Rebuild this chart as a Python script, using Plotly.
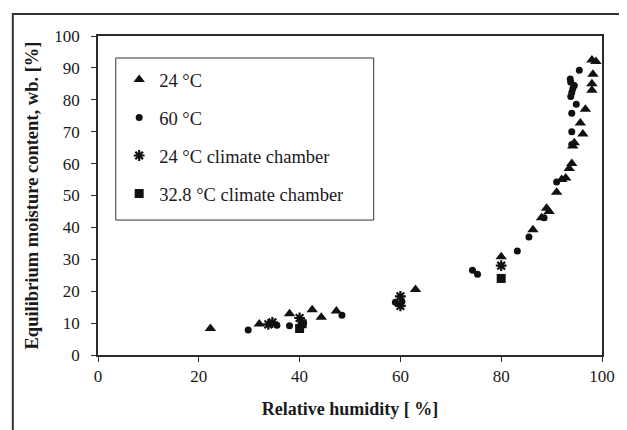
import plotly.graph_objects as go

# ---- data ----
rh_24 = [22.3, 32.0, 38.0, 42.5, 44.3, 47.3, 63.0, 80.0, 86.3, 88.0, 89.0, 89.5,
         91.0, 92.0, 92.8, 93.5, 94.0, 94.2, 94.5, 96.2, 95.7, 96.7, 98.0, 98.0,
         98.2, 98.0, 98.8]
emc_24 = [8.3, 9.7, 12.9, 14.2, 11.8, 13.8, 20.5, 30.8, 39.3, 43.0, 46.0, 45.0,
          51.0, 55.0, 55.5, 58.5, 60.0, 65.5, 66.5, 69.3, 72.7, 77.0, 83.0, 85.0,
          88.0, 92.5, 92.0]

rh_60 = [29.8, 35.5, 38.0, 40.8, 48.4, 59.0, 60.3, 74.3, 75.3, 83.2, 85.5, 88.5,
         91.0, 94.0, 94.0, 94.0, 94.9, 93.8, 94.0, 94.2, 94.5, 93.8, 93.7, 95.5]
emc_60 = [7.8, 9.3, 9.2, 10.0, 12.5, 16.5, 16.8, 26.6, 25.3, 32.6, 37.0, 43.0,
          54.2, 66.0, 70.0, 75.8, 78.6, 81.0, 82.3, 83.5, 84.5, 85.5, 86.5, 89.3]

rh_24cc = [33.8, 34.6, 40.0, 60.0, 60.0, 80.0]
emc_24cc = [9.6, 10.2, 11.6, 18.4, 15.4, 28.0]

rh_33cc = [40.0, 40.5, 80.0]
emc_33cc = [8.3, 9.8, 24.0]

x_ticks = [0, 20, 40, 60, 80, 100]
y_ticks = [0, 10, 20, 30, 40, 50, 60, 70, 80, 90, 100]

INK = "#111111"
SERIF = "Liberation Serif"
TXT = "#1a1a1a"

fig = go.Figure()
fig.add_trace(go.Scatter(x=rh_24, y=emc_24, mode="markers", name="24 °C",
                         legendgroup="a",
                         marker=dict(symbol="triangle-up", size=10, color=INK)))
fig.add_trace(go.Scatter(x=rh_60, y=emc_60, mode="markers", name="60 °C",
                         legendgroup="b",
                         marker=dict(symbol="circle", size=7, color=INK)))
fig.add_trace(go.Scatter(x=rh_24cc, y=emc_24cc, mode="markers",
                         name="24 °C climate chamber", legendgroup="c",
                         marker=dict(symbol="asterisk-open", size=9, color=INK,
                                     line=dict(width=2.2, color=INK))))
fig.add_trace(go.Scatter(x=rh_33cc, y=emc_33cc, mode="markers",
                         name="32.8 °C climate chamber", legendgroup="d",
                         marker=dict(symbol="square", size=9, color=INK)))

axis_common = dict(showline=True, linecolor="#2a2a2a", linewidth=1.5,
                   mirror=True, ticks="outside", ticklen=5, tickwidth=1.2,
                   tickcolor="#2a2a2a", showgrid=False, zeroline=False,
                   tickfont=dict(family=SERIF, size=17, color=TXT))

# the page body adds an 8 px offset; the figure is sized to fill the rest
fig.update_layout(
    width=619, height=422,
    margin=dict(l=90, r=19, t=28, b=75),
    paper_bgcolor="white", plot_bgcolor="white",
    font=dict(family=SERIF, color=TXT),
    showlegend=True,
    legend=dict(x=0.042, y=0.922, xanchor="left", yanchor="top",
                borderwidth=0, bgcolor="rgba(0,0,0,0)",
                font=dict(family=SERIF, size=18.5, color=TXT),
                tracegroupgap=11, itemwidth=30),
    xaxis=dict(range=[0, 100], tickvals=x_ticks, ticklabelstandoff=0,
               title=dict(text="<b>Relative humidity [ %]</b>", standoff=17,
                          font=dict(family=SERIF, size=18, color=TXT)),
               **axis_common),
    yaxis=dict(range=[0, 100], tickvals=y_ticks, ticklabelstandoff=8,
               title=dict(text="<b>Equilibrium moisture content, wb. [%]</b>",
                          standoff=11,
                          font=dict(family=SERIF, size=18.5, color=TXT)),
               **axis_common),
)

# legend frame
fig.add_shape(type="rect", xref="paper", yref="paper",
              x0=0.0353, x1=0.547, y0=0.423, y1=0.931,
              line=dict(color="#333333", width=1))

# outer frame of the figure (left and top edges visible)
fig.add_shape(type="rect", xref="paper", yref="paper",
              x0=-0.169, x1=1.2, y0=-0.4, y1=1.069,
              line=dict(color="#333333", width=2))

fig.write_html("out.html")
